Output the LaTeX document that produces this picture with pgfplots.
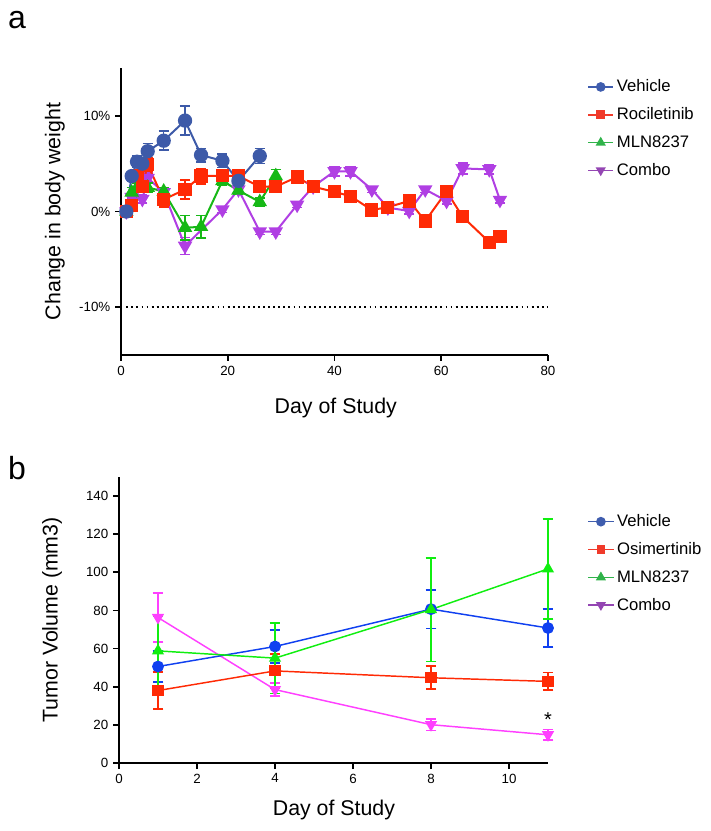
\documentclass[border=0pt]{standalone}
\usepackage{fontspec}
\setmainfont{Liberation Sans}
\usepackage{pgfplots}
\pgfplotsset{compat=1.18}

\definecolor{vblue}{HTML}{3D5AA8}
\definecolor{rred}{HTML}{FF2A05}
\definecolor{mgreen}{HTML}{16B816}
\definecolor{cpurple}{HTML}{B03FE3}
% legend colours (both panels)
\definecolor{lblue}{HTML}{3F5DAE}
\definecolor{lred}{HTML}{F03A2A}
\definecolor{lgreen}{HTML}{30B34A}
\definecolor{lpurple}{HTML}{9446B3}
% bottom panel line colours
\definecolor{bblue}{HTML}{1040F0}
\definecolor{bred}{HTML}{FF2A05}
\definecolor{bgreen}{HTML}{10EE10}
\definecolor{bmag}{HTML}{FF40FF}

\pgfplotsset{
  panel/.style={
    scale only axis,
    axis lines=left,
    axis line style={line width=1.5pt,-},
    clip=false,
    tick style={line width=1.3pt,black},
    tick align=outside,
    major tick length=4.5pt,
    tick label style={font=\fontsize{10}{12}\selectfont},
    /pgf/number format/assume math mode=true,
    label style={font=\fontsize{16}{19}\selectfont},
    legend style={draw=none,fill=none,anchor=north west,
      font=\fontsize{12.5}{15}\selectfont,row sep=6.4pt,
      /tikz/every even column/.append style={column sep=3pt}},
    legend cell align=left,
    legend image code/.code={\draw[mark repeat=2,mark phase=2,##1]
      plot coordinates {(0pt,0pt)(9.5pt,0pt)(19pt,0pt)};},
    error bars/y dir=both,
    error bars/y explicit,
  },
}

\begin{document}
\begin{tikzpicture}
\useasboundingbox (0,0) rectangle (532.5pt,623.25pt);
\node[font=\fontsize{24}{28}\selectfont] at (12.75pt,608pt) {a};
\node[font=\fontsize{24}{28}\selectfont] at (12.75pt,272pt) {b};

% ---------------- panel a ----------------
\begin{axis}[panel,
  at={(90.75pt,357pt)}, anchor=south west,
  width=320.25pt, height=215.25pt,
  xmin=0, xmax=80, ymin=-15, ymax=15,
  xtick={0,20,40,60,80},
  ytick={-10,0,10}, yticklabels={-10\%,0\%,10\%},
  xlabel={Day of Study},
  ylabel={Change in body weight},
  xlabel style={at={(axis description cs:0.503,-0.185)},anchor=center},
  ylabel style={at={(axis description cs:-0.155,0.5)},anchor=center},
  legend style={at={(1.082,0.978)}},
  error bars/error bar style={line width=1.2pt},
  error bars/error mark options={rotate=90,mark size=3.8pt,line width=1.2pt},
]
\addlegendimage{lblue,line width=1.2pt,mark=*,mark size=3pt}
\addlegendentry{Vehicle}
\addlegendimage{lred,line width=1.2pt,mark=square*,mark size=2.7pt}
\addlegendentry{Rociletinib}
\addlegendimage{lgreen,line width=1.2pt,mark=triangle*,mark size=3.2pt}
\addlegendentry{MLN8237}
\addlegendimage{lpurple,line width=1.2pt,mark=triangle*,mark size=3.2pt,mark options={rotate=180}}
\addlegendentry{Combo}

\addplot[black,line width=1.4pt,dash pattern=on 1.4pt off 2.4pt,forget plot]
  coordinates {(1,-10) (80,-10)};

% Combo
\addplot[cpurple,line width=1.5pt,mark=triangle*,mark size=4.8pt,
  mark options={rotate=180},forget plot]
  coordinates {
  (1,0) +- (0,0)
  (2,1.5) +- (0,0.4)
  (4,1.3) +- (0,0.4)
  (5,3.5) +- (0,0.5)
  (8,2.0) +- (0,0.4)
  (12,-3.6) +- (0,0.9)
  (19,0.2) +- (0,0.3)
  (22,2.3) +- (0,0.3)
  (26,-2.1) +- (0,0.3)
  (29,-2.1) +- (0,0.3)
  (33,0.7) +- (0,0.3)
  (36,2.6) +- (0,0.3)
  (40,4.2) +- (0,0.5)
  (43,4.2) +- (0,0.5)
  (47,2.3) +- (0,0.3)
  (50,0.4) +- (0,0.3)
  (54,0.05) +- (0,0.3)
  (57,2.3) +- (0,0.3)
  (61,1.1) +- (0,0.3)
  (64,4.5) +- (0,0.6)
  (69,4.4) +- (0,0.5)
  (71,1.2) +- (0,0.3)
  };

% MLN8237
\addplot[mgreen,line width=1.5pt,mark=triangle*,mark size=4.8pt,forget plot]
  coordinates {
  (1,0) +- (0,0)
  (2,2.0) +- (0,0.5)
  (3,2.5) +- (0,0.5)
  (5,2.5) +- (0,0.5)
  (8,2.1) +- (0,0.4)
  (12,-1.7) +- (0,1.3)
  (15,-1.6) +- (0,1.2)
  (19,3.2) +- (0,0.5)
  (22,2.2) +- (0,0.4)
  (26,1.0) +- (0,0.4)
  (29,3.7) +- (0,0.7)
  };

% Rociletinib
\addplot[rred,line width=1.5pt,mark=square*,mark size=4.2pt,forget plot]
  coordinates {
  (1,0) +- (0,0)
  (2,0.6) +- (0,0.4)
  (3,3.8) +- (0,0.6)
  (4,2.6) +- (0,0.5)
  (5,4.9) +- (0,0.7)
  (8,1.25) +- (0,0.8)
  (12,2.3) +- (0,1.0)
  (15,3.7) +- (0,0.8)
  (19,3.75) +- (0,0.6)
  (22,3.7) +- (0,0.5)
  (26,2.6) +- (0,0.3)
  (29,2.6) +- (0,0.3)
  (33,3.6) +- (0,0.3)
  (36,2.6) +- (0,0.3)
  (40,2.05) +- (0,0.3)
  (43,1.6) +- (0,0.3)
  (47,0.15) +- (0,0.3)
  (50,0.45) +- (0,0.3)
  (54,1.1) +- (0,0.3)
  (57,-1.0) +- (0,0.3)
  (61,2.1) +- (0,0.3)
  (64,-0.55) +- (0,0.3)
  (69,-3.2) +- (0,0.3)
  (71,-2.6) +- (0,0.3)
  };

% Vehicle
\addplot[vblue,line width=1.5pt,mark=*,mark size=4.6pt,forget plot]
  coordinates {
  (1,0) +- (0,0)
  (2,3.7) +- (0,0.5)
  (3,5.2) +- (0,0.6)
  (4,5.0) +- (0,0.6)
  (5,6.3) +- (0,0.8)
  (8,7.4) +- (0,1.0)
  (12,9.5) +- (0,1.5)
  (15,5.9) +- (0,0.7)
  (19,5.3) +- (0,0.7)
  (22,3.2) +- (0,0.6)
  (26,5.8) +- (0,0.8)
  };
\end{axis}

% ---------------- panel b ----------------
\begin{axis}[panel,
  at={(89.25pt,51pt)}, anchor=south west,
  width=321.75pt, height=214.5pt,
  xmin=0, xmax=11, ymin=0, ymax=150,
  xtick={0,2,4,6,8,10},
  ytick={0,20,40,60,80,100,120,140},
  xlabel={Day of Study},
  ylabel={Tumor Volume (mm3)},
  xlabel style={at={(axis description cs:0.501,-0.164)},anchor=center},
  ylabel style={at={(axis description cs:-0.156,0.5)},anchor=center},
  legend style={at={(1.082,0.888)}},
  error bars/error bar style={line width=1.3pt},
  error bars/error mark options={rotate=90,mark size=4pt,line width=1.3pt},
]
\addlegendimage{lblue,line width=1.2pt,mark=*,mark size=3pt}
\addlegendentry{Vehicle}
\addlegendimage{lred,line width=1.2pt,mark=square*,mark size=2.7pt}
\addlegendentry{Osimertinib}
\addlegendimage{lgreen,line width=1.2pt,mark=triangle*,mark size=3.2pt}
\addlegendentry{MLN8237}
\addlegendimage{lpurple,line width=1.2pt,mark=triangle*,mark size=3.2pt,mark options={rotate=180}}
\addlegendentry{Combo}

% Combo
\addplot[bmag,line width=1.1pt,mark=triangle*,mark size=4.2pt,
  mark options={rotate=180},forget plot]
  coordinates {
  (1,76.3) +- (0,13)
  (4,38.5) +- (0,3.5)
  (8,20.1) +- (0,3)
  (11,14.8) +- (0,2.8)
  };
% Vehicle
\addplot[bblue,line width=1.1pt,mark=*,mark size=3.9pt,forget plot]
  coordinates {
  (1,50.6) +- (0,8)
  (4,61.1) +- (0,8.5)
  (8,80.7) +- (0,10.2)
  (11,70.8) +- (0,10)
  };
% Osimertinib
\addplot[bred,line width=1.1pt,mark=square*,mark size=3.6pt,forget plot]
  coordinates {
  (1,38.0) +- (0,9.7)
  (4,48.3) +- (0,9)
  (8,44.7) +- (0,6)
  (11,42.8) +- (0,4.7)
  };
% MLN8237
\addplot[bgreen,line width=1.1pt,mark=triangle*,mark size=4.2pt,forget plot]
  coordinates {
  (1,58.8) +- (0,18.4)
  (4,55.0) +- (0,18.6)
  (8,80.5) +- (0,27.2)
  (11,101.8) +- (0,26.2)
  };
\node[font=\fontsize{15}{17}\selectfont] at (axis cs:11,22.5) {*};
\end{axis}
\end{tikzpicture}
\end{document}
